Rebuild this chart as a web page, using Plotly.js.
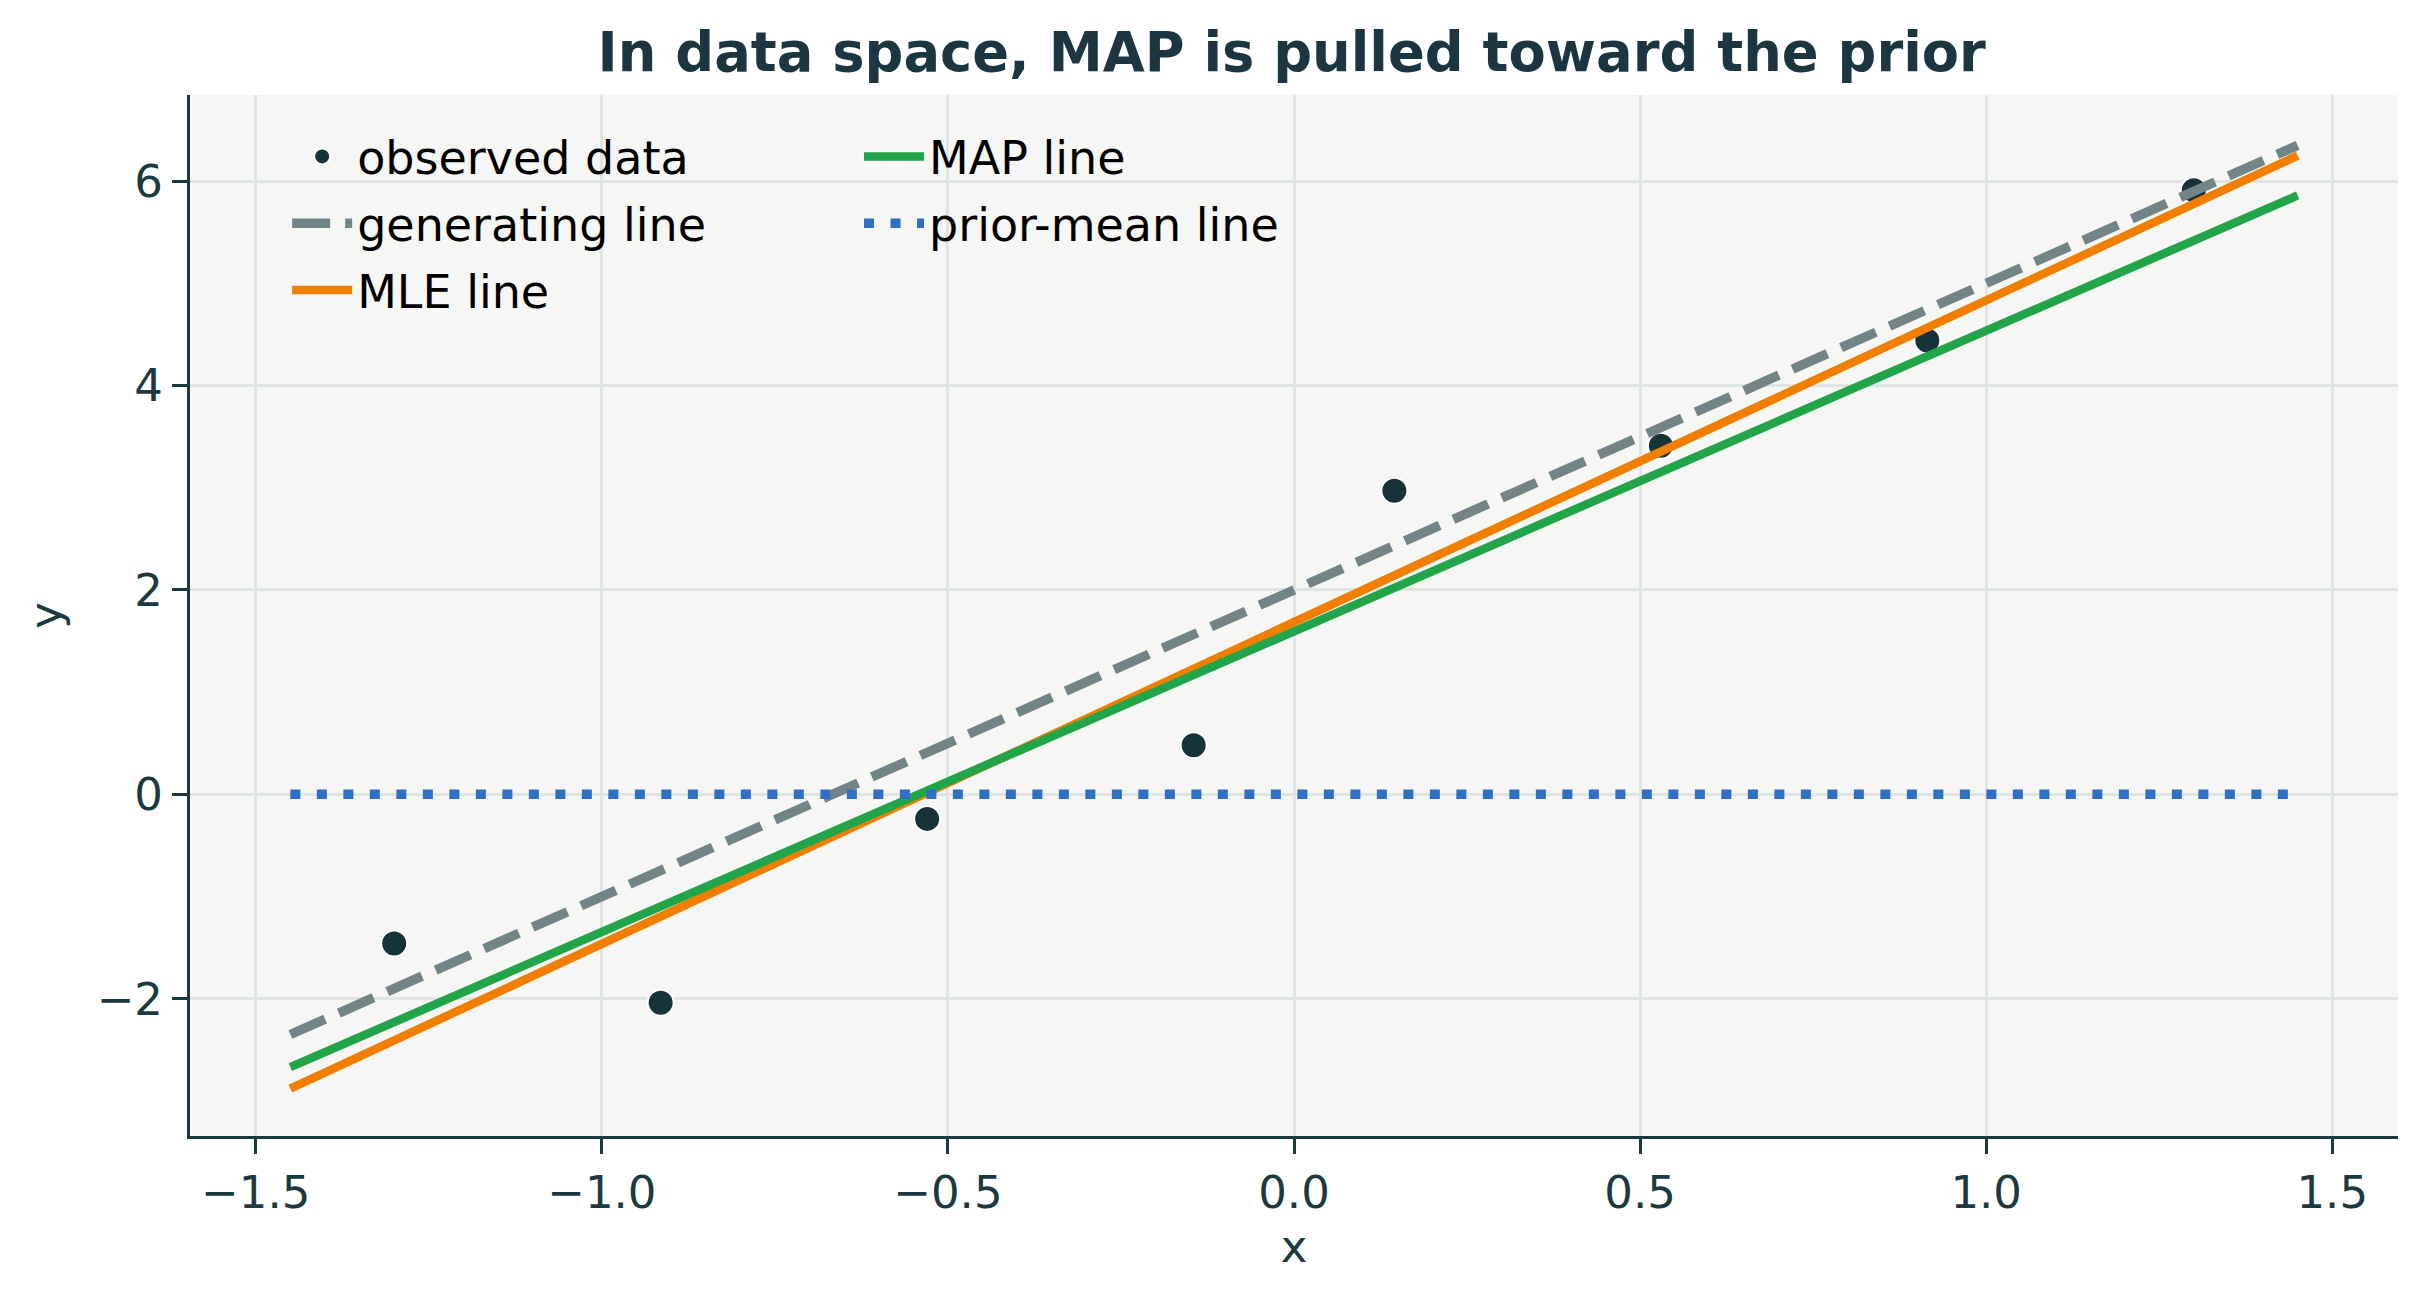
<!DOCTYPE html>
<html>
<head>
<meta charset="utf-8">
<script src="https://cdn.plot.ly/plotly-3.0.1.min.js"></script>
<style>
  html, body { margin: 0; padding: 0; background: #ffffff; }
  #chart { width: 2428px; height: 1303px; }
</style>
</head>
<body>
<div id="chart"></div>
<script>
// observed points
const obsX = [-1.300, -0.915, -0.530, -0.145, 0.145, 0.530, 0.915, 1.300];
const obsY = [-1.46, -2.04, -0.24, 0.48, 2.97, 3.41, 4.44, 5.91];

// fitted lines, drawn between the two ends of the x span
const lineX = [-1.45, 1.45];
const generatingY = [-2.35, 6.35];
const mleY = [-2.88, 6.25];
const mapY = [-2.67, 5.86];
const priorY = [0, 0];

const xTickVals = [-1.5, -1.0, -0.5, 0.0, 0.5, 1.0, 1.5];
const xTickText = ['\u22121.5', '\u22121.0', '\u22120.5', '0.0', '0.5', '1.0', '1.5'];
const yTickVals = [-2, 0, 2, 4, 6];
const yTickText = ['\u22122', '0', '2', '4', '6'];

const ink = '#1b3a40';
const font = 'DejaVu Sans, sans-serif';

function main() {
    var traces = [
        {
            x: obsX, y: obsY, type: 'scatter', mode: 'markers', name: 'observed data',
            marker: {color: '#17333a', size: 26, line: {color: '#ffffff', width: 2}},
            legend: 'legend', legendgroup: 'obs'
        },
        {
            x: lineX, y: generatingY, type: 'scatter', mode: 'lines', name: 'generating line',
            line: {color: '#738487', width: 9.5, dash: '38px,15px'},
            legend: 'legend', legendgroup: 'gen'
        },
        {
            x: lineX, y: mleY, type: 'scatter', mode: 'lines', name: 'MLE line',
            line: {color: '#f07f00', width: 8.5},
            legend: 'legend', legendgroup: 'mle'
        },
        {
            x: lineX, y: mapY, type: 'scatter', mode: 'lines', name: 'MAP line',
            line: {color: '#22a54a', width: 8.5},
            legend: 'legend2', legendgroup: 'map'
        },
        {
            x: lineX, y: priorY, type: 'scatter', mode: 'lines', name: 'prior-mean line',
            line: {color: '#2f6fc4', width: 9.5, dash: '10px,16.5px'},
            legend: 'legend2', legendgroup: 'prior'
        }
    ];

    var legendBase = {
        font: {family: font, size: 46, color: '#000000'},
        bgcolor: 'rgba(0,0,0,0)',
        borderwidth: 0,
        yanchor: 'top',
        xanchor: 'left',
        y: 0.976,
        itemwidth: 60,
        tracegroupgap: 4
    };

    var layout = {
        width: 2428,
        height: 1303,
        paper_bgcolor: '#ffffff',
        plot_bgcolor: '#f6f6f4',
        margin: {l: 190, r: 30, t: 95, b: 167},
        font: {family: font, color: ink, size: 45},
        title: {
            text: '<b>In data space, MAP is pulled toward the prior</b>',
            font: {family: font, size: 54.3, color: '#1b3640'},
            x: 0.532, xanchor: 'center',
            y: 0.96, yanchor: 'middle'
        },
        xaxis: {
            range: [-1.595, 1.595],
            tickvals: xTickVals, ticktext: xTickText,
            showgrid: true, gridcolor: '#dfe4e4', gridwidth: 3,
            zeroline: false,
            showline: true, linecolor: ink, linewidth: 3, mirror: false,
            ticks: 'outside', ticklen: 15, tickwidth: 3, tickcolor: ink,
            tickfont: {family: font, size: 45, color: ink},
            title: {text: 'x', font: {family: font, size: 45, color: ink}, standoff: 13}
        },
        yaxis: {
            range: [-3.343, 6.843],
            tickvals: yTickVals, ticktext: yTickText,
            showgrid: true, gridcolor: '#dfe4e4', gridwidth: 3,
            zeroline: false,
            showline: true, linecolor: ink, linewidth: 3, mirror: false,
            ticks: 'outside', ticklen: 15, tickwidth: 3, tickcolor: ink,
            tickfont: {family: font, size: 45, color: ink},
            title: {text: 'y', font: {family: font, size: 45, color: ink}, standoff: 21}
        },
        legend: Object.assign({}, legendBase, {x: 0.044}),
        legend2: Object.assign({}, legendBase, {x: 0.303}),
        showlegend: true
    };

    Plotly.newPlot('chart', traces, layout, {displayModeBar: false, staticPlot: true});
}
main();
</script>
</body>
</html>
